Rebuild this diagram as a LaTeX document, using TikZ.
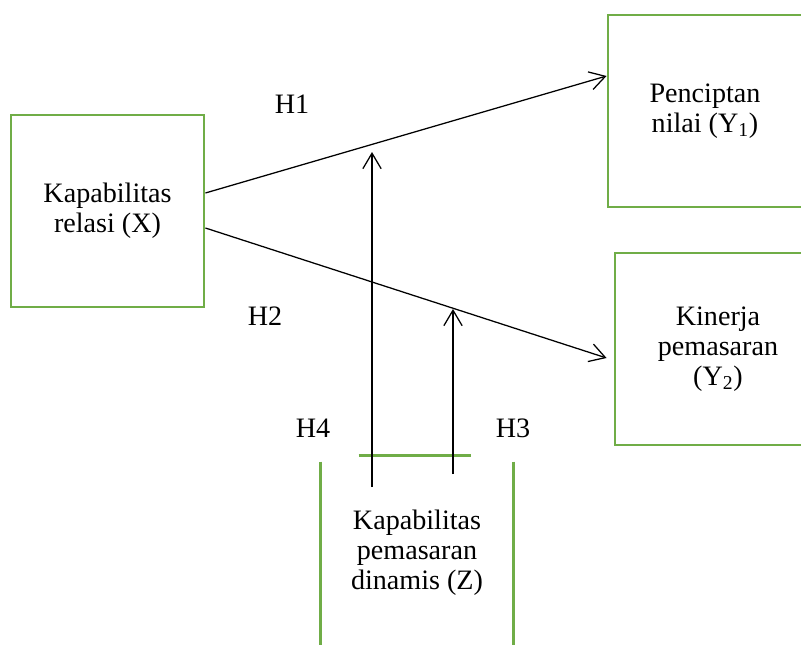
\documentclass[tikz,border=0pt]{standalone}
\usepackage{fontspec}
\setmainfont{Liberation Serif}
\usetikzlibrary{arrows.meta}

\definecolor{boxgreen}{HTML}{70AD47}

\tikzset{
  varbox/.style={draw=boxgreen, line width=2pt, align=center, inner sep=0pt,
    minimum height=4.8cm},
  greenline/.style={draw=boxgreen, line width=2pt},
  link/.style={line width=0.9pt, -{Straight Barb[length=11pt,width=13pt]}},
  hlabel/.style={inner sep=0pt}
}

\begin{document}
\begin{tikzpicture}[x=0.025cm, y=-0.025cm, font=\fontsize{20}{21.3}\selectfont]

        \useasboundingbox (0,0) rectangle (801,644);
        \clip (0,0) rectangle (801,644);

        %Boxes
        %left
        \node[varbox, minimum width=4.825cm] (X) at (107.5,211) {Kapabilitas\\relasi (X)};
        %right top
        \node[varbox, minimum width=4.85cm] (Y1) at (705,111) {Penciptan\\nilai (Y\textsubscript{1})};
        %right bottom
        \node[varbox, minimum width=5.15cm] (Y2) at (718,349) {Kinerja\\pemasaran\\(Y\textsubscript{2})};
        %bottom (open box)
        \node[align=center, inner sep=0pt, minimum width=4.8cm, minimum height=4.85cm] (Z) at (417,553) {Kapabilitas\\pemasaran\\dinamis (Z)};
        \draw[greenline] ([yshift=-0.15cm]Z.north west) -- (Z.south west);
        \draw[greenline] ([yshift=-0.15cm]Z.north east) -- (Z.south east);
        \draw[greenline] ([xshift=0.95cm]Z.north west) -- ([xshift=-1.05cm]Z.north east);

        %Edges
        \draw[link] ([yshift=0.45cm]X.east) -- ([yshift=0.875cm]Y1.west);
        \draw[link] ([yshift=-0.425cm]X.east) -- ([xshift=-0.175cm,yshift=-0.225cm]Y2.west);

        %Moderation
        \coordinate (h4foot) at (372,487);
        \coordinate (h4tip) at (372,152);
        \coordinate (h3foot) at (453,474);
        \coordinate (h3tip) at (453,309);
        \draw[link] (h4foot) -- (h4tip);
        \draw[link] (h3foot) -- (h3tip);

        %Labels
        \node[hlabel] (H1) at (292,104) {H1};
        \node[hlabel] (H2) at (265,316) {H2};
        \node[hlabel] (H3) at (513,428) {H3};
        \node[hlabel] (H4) at (313,428) {H4};

\end{tikzpicture}
\end{document}
